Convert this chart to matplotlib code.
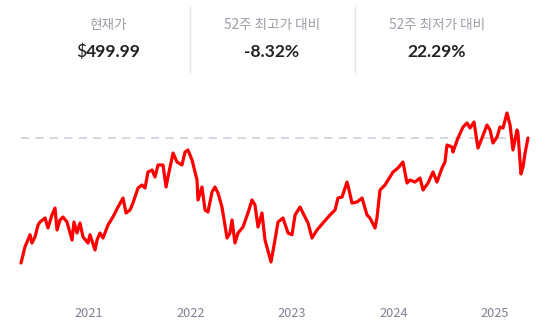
import matplotlib
matplotlib.use("Agg")
import matplotlib.pyplot as plt

plt.rcParams['font.family'] = ['Noto Sans CJK KR', 'DejaVu Sans']

# ---- data ----
header_labels = ["현재가", "52주 최고가 대비", "52주 최저가 대비"]
current_price = "499.99"
vs_high = "-8.32%"
vs_low = "22.29%"
year_ticks = [2021, 2022, 2023, 2024, 2025]
ref_level = 490.5  # dashed reference line

dates = [2020.330, 2020.369, 2020.419, 2020.438, 2020.468, 2020.498, 2020.517, 2020.567,
         2020.596, 2020.635, 2020.665, 2020.685, 2020.714, 2020.744, 2020.783, 2020.833,
         2020.852, 2020.882, 2020.911, 2020.941, 2020.990, 2021.010, 2021.059, 2021.079,
         2021.108, 2021.138, 2021.187, 2021.236, 2021.286, 2021.335, 2021.365, 2021.404,
         2021.433, 2021.483, 2021.522, 2021.552, 2021.581, 2021.621, 2021.650, 2021.680,
         2021.729, 2021.759, 2021.778, 2021.828, 2021.867, 2021.916, 2021.946, 2021.975,
         2022.015, 2022.064, 2022.074, 2022.113, 2022.143, 2022.172, 2022.212, 2022.241,
         2022.271, 2022.310, 2022.360, 2022.389, 2022.409, 2022.438, 2022.468, 2022.517,
         2022.566, 2022.606, 2022.635, 2022.665, 2022.704, 2022.734, 2022.793, 2022.832,
         2022.862, 2022.911, 2022.961, 2023.000, 2023.030, 2023.079, 2023.108, 2023.158,
         2023.197, 2023.246, 2023.305, 2023.374, 2023.424, 2023.453, 2023.493, 2023.542,
         2023.562, 2023.591, 2023.640, 2023.690, 2023.739, 2023.768, 2023.818, 2023.837,
         2023.867, 2023.916, 2023.946, 2023.995, 2024.044, 2024.093, 2024.133, 2024.162,
         2024.212, 2024.261, 2024.291, 2024.340, 2024.389, 2024.428, 2024.478, 2024.507,
         2024.527, 2024.576, 2024.586, 2024.635, 2024.685, 2024.724, 2024.754, 2024.793,
         2024.832, 2024.872, 2024.921, 2024.951, 2024.980, 2025.020, 2025.049, 2025.079,
         2025.118, 2025.148, 2025.177, 2025.217, 2025.226, 2025.256, 2025.276, 2025.296,
         2025.325]

prices = [209.7, 245.5, 273.0, 254.4, 267.9, 294.7, 301.4, 310.4,
          288.0, 317.1, 332.8, 283.5, 305.9, 312.6, 301.4, 261.1,
          301.4, 276.8, 299.2, 267.9, 254.4, 273.0, 238.8, 261.1,
          276.8, 265.6, 294.7, 312.6, 335.0, 355.1, 321.6, 328.3,
          343.9, 377.5, 384.2, 377.5, 413.3, 417.8, 402.1, 429.0,
          429.0, 379.8, 402.1, 455.8, 435.7, 429.0, 458.1, 462.6,
          440.2, 395.4, 350.7, 379.8, 328.3, 323.8, 368.6, 379.8,
          366.3, 335.0, 265.6, 276.8, 305.9, 254.4, 276.8, 290.2,
          321.6, 350.7, 339.5, 290.2, 321.6, 261.1, 211.9, 261.1,
          301.4, 310.4, 276.8, 273.0, 317.1, 335.0, 321.6, 299.2,
          265.6, 283.5, 299.2, 317.1, 328.3, 355.1, 357.4, 390.9,
          373.0, 343.9, 346.2, 355.1, 317.1, 310.4, 288.0, 310.4,
          373.0, 384.2, 395.4, 413.3, 422.3, 435.7, 388.7, 395.4,
          390.9, 399.9, 373.0, 388.7, 413.3, 390.9, 422.3, 435.7,
          473.7, 469.3, 458.1, 489.4, 514.0, 523.0, 511.8, 525.2,
          467.0, 489.4, 518.5, 507.3, 478.2, 491.6, 514.0, 511.8,
          545.4, 518.5, 462.6, 507.3, 500.6, 408.9, 424.5, 455.8,
          489.4]

W, H = 548, 333
fig = plt.figure(figsize=(W / 100, H / 100), dpi=100)
fig.patch.set_facecolor('white')

# ---- header ----
label_color = '#9b9ea7'
value_color = '#222222'
cols = [108, 272, 437]
for cx, lab in zip(cols, header_labels):
    fig.text(cx / W, 1 - 25 / H, lab, ha='center', va='center',
             fontsize=9.8, color=label_color)
vfs = 12.6
fig.text(86 / W, 1 - 52 / H, "$", ha='right', va='center', fontsize=vfs,
         color=value_color, family=['Lato', 'DejaVu Sans'])
fig.text(86 / W, 1 - 52 / H, current_price, ha='left', va='center', fontsize=vfs,
         fontweight='bold', color=value_color, family=['Lato', 'DejaVu Sans'])
fig.text(cols[1] / W, 1 - 52 / H, vs_high, ha='center', va='center', fontsize=vfs,
         fontweight='bold', color=value_color, family=['Lato', 'DejaVu Sans'])
fig.text(cols[2] / W, 1 - 52 / H, vs_low, ha='center', va='center', fontsize=vfs,
         fontweight='bold', color=value_color, family=['Lato', 'DejaVu Sans'])
for dx in (190, 355):
    fig.add_artist(plt.Line2D([dx / W, dx / W], [1 - 7 / H, 1 - 72 / H],
                              color='#e6e6e6', lw=1.0))

# ---- chart ----
ax = fig.add_axes([21 / W, 33 / H, 507 / W, 200 / H])
ax.set_facecolor('none')
ax.plot(dates, prices, color='#ff0000', lw=2.3, solid_joinstyle='round',
        solid_capstyle='round', clip_on=False, zorder=3)
ax.axhline(ref_level, color='#d0d4de', lw=1.3, dashes=(4.5, 3.5), zorder=2)

ax.set_xlim(dates[0], dates[-1])
ax.set_ylim(126.9, 574.45)
ax.set_xticks(year_ticks)
ax.set_xticklabels([str(y) for y in year_ticks])
ax.tick_params(axis='x', length=0, pad=5, labelsize=9.2, labelcolor='#7e8294')
ax.set_yticks([])
for s in ax.spines.values():
    s.set_visible(False)

fig.savefig('out.png', dpi=100, facecolor='white')
